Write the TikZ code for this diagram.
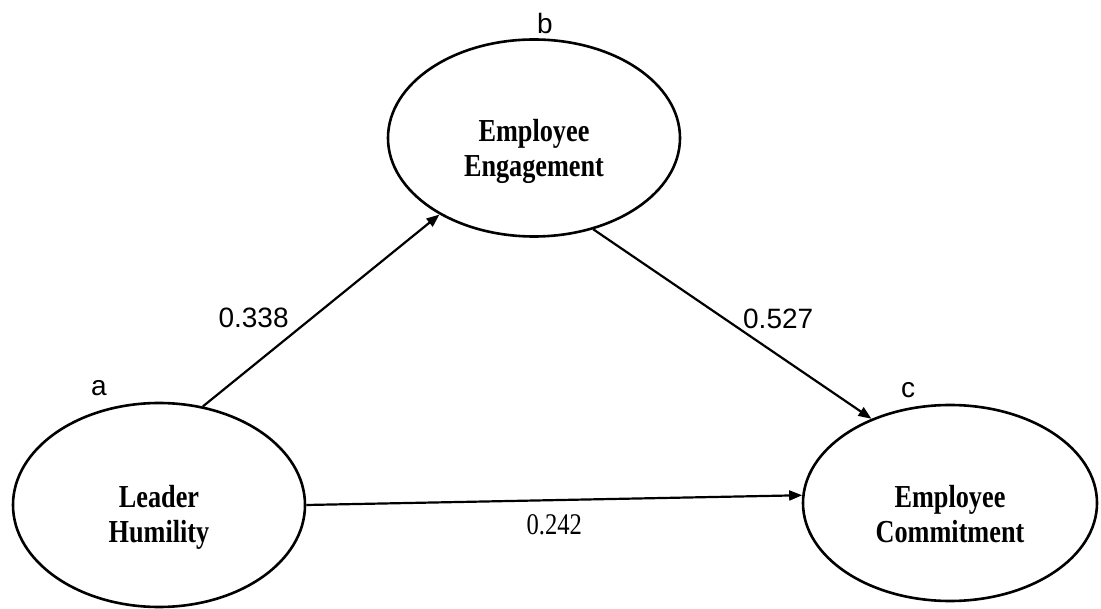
\documentclass[tikz,border=0pt]{standalone}
\usepackage{fontspec}
\setmainfont{Liberation Serif}
\newfontfamily\varfont{Liberation Serif}[FakeStretch=0.82]
\newfontfamily\numfont{Liberation Sans}
\usetikzlibrary{arrows.meta,shapes.geometric}

\begin{document}
\begin{tikzpicture}[x=1pt,y=-1pt,
  latent/.style={ellipse,draw,line width=2.6pt,minimum width=292pt,minimum height=198pt,
    align=center,text depth=0pt,font=\varfont\bfseries\fontsize{32}{35}\selectfont},
  path/.style={line width=2.2pt,-{Triangle[length=13pt,width=10pt]}},
  coef/.style={font=\numfont\fontsize{28}{30}\selectfont,inner sep=0pt}]
\useasboundingbox(0,0)rectangle(1101,609);
\node[latent,minimum height=204pt,text height=74pt](lh)at(159,505){Leader\\Humility};
\node[latent,minimum height=197pt,text height=78pt](ee)at(534,138){Employee\\Engagement};
\node[latent,minimum height=196pt,minimum width=294pt,text height=78pt](ec)at(950,503){Employee\\Commitment};
\draw[path](lh.66)--(ee.219)node[coef,pos=.46,left=22pt]{0.338};
\draw[path](ee.303)--(ec.133)node[coef,pos=.47,right=18pt]{0.527};
\draw[path](lh.0)--(ec.177)node[pos=.5,below=13pt,inner sep=0pt,font=\varfont\fontsize{30}{30}\selectfont]{0.242};
\node[coef](ta)at(99,388){a};
\node[coef](tb)at(545,23){b};
\node[coef](tc)at(908,390){c};
\end{tikzpicture}
\end{document}
